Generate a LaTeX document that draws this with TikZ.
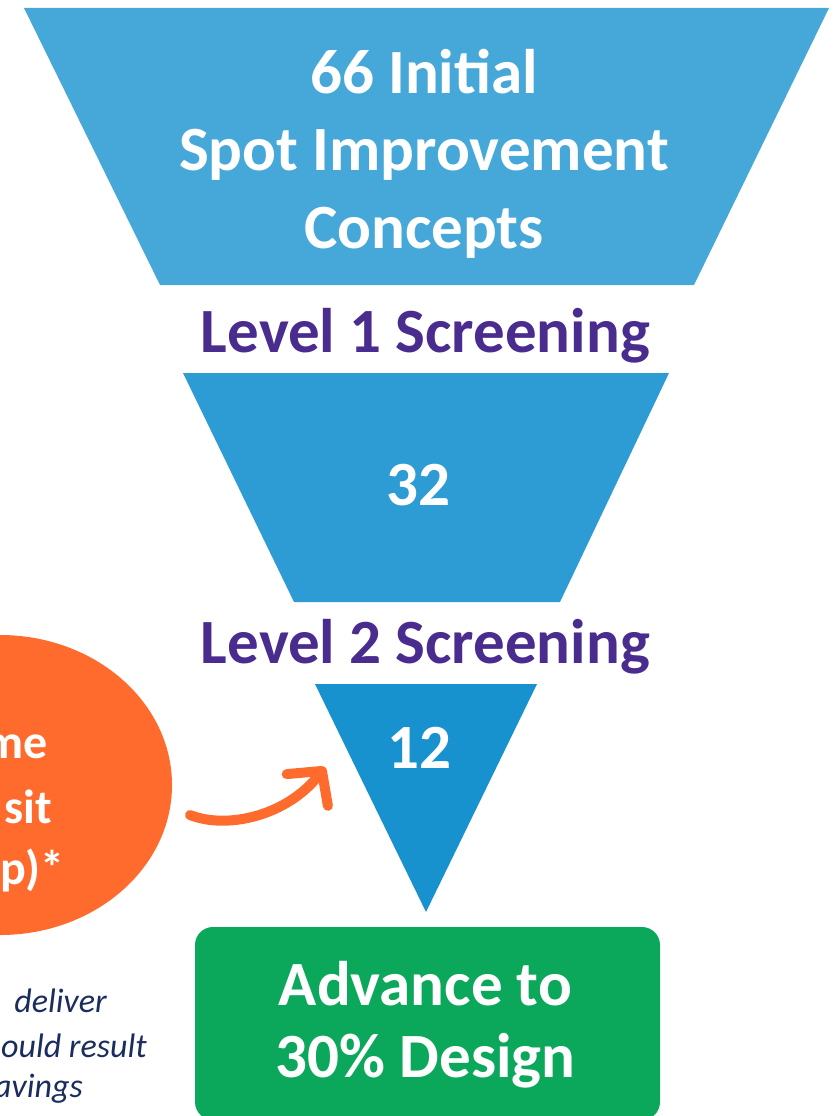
\documentclass[tikz,border=0pt]{standalone}
\usepackage{fontspec}
\setmainfont{Carlito}
\usetikzlibrary{arrows.meta,shapes,calc}
\definecolor{funnelA}{HTML}{46A8D8}
\definecolor{funnelB}{HTML}{2D9BD4}
\definecolor{funnelC}{HTML}{1892CF}
\definecolor{screenpurple}{HTML}{4A2C8F}
\definecolor{advgreen}{HTML}{0BA85B}
\definecolor{transorange}{HTML}{FF6B2C}
\definecolor{notenavy}{HTML}{1B2C5E}
\tikzstyle{bigtext}=[text=white,font=\bfseries\fontsize{63}{77.5}\selectfont,align=center,inner sep=0pt,anchor=base]
\tikzstyle{screen}=[text=screenpurple,font=\bfseries\fontsize{63}{77}\selectfont,inner sep=0pt,anchor=base]
\tikzstyle{ovaltext}=[text=white,font=\bfseries\fontsize{48}{63}\selectfont,inner sep=0pt,anchor=base east]
\tikzstyle{note}=[text=notenavy,font=\itshape\fontsize{34}{43}\selectfont,inner sep=0pt,anchor=base east]
\tikzstyle{curvearrow}=[draw=transorange,line width=10pt,line cap=round,-{Straight Barb[length=24pt,width=52pt,round]}]

\begin{document}
\begin{tikzpicture}[x=1pt,y=-1pt]
    \useasboundingbox (0,0) rectangle (833,1116);

    % funnel stages
    \fill[funnelA] (24,8) -- (829,8) -- (694,285) -- (160,285) -- cycle;
    \fill[funnelB] (183,373) -- (669,373) -- (560,602) -- (294,602) -- cycle;
    \fill[funnelC] (315,684) -- (537,684) -- (426,912) -- cycle;
    \fill[advgreen, rounded corners=18pt] (195,927) rectangle (660,1120);
    \fill[transorange] (0,785) ellipse [x radius=172, y radius=150];

    % multi-line nodes sit on their last baseline
    \node[bigtext] (initial) at (424,248) {66 Initial\\Spot Improvement\\Concepts};
    \node[screen] (level1) at (425.5,352) {Level 1 Screening};
    \node[bigtext] (n32) at (418,505) {32};
    \node[screen] (level2) at (425.5,663) {Level 2 Screening};
    \node[bigtext] (n12) at (419,768) {12};
    \node[bigtext,font=\bfseries\fontsize{63}{72}\selectfont] (advance) at (425.5,1077) {Advance to\\30\% Design};

    % cut-off text on the left
    \foreach \y/\txt/\xr in {758/me/48, 823/sit/52, 884/p)*/65}
        \node[ovaltext] (oval\y) at (\xr,\y) {\txt};
    \foreach \y/\txt/\xr in {1012/deliver/107, 1057/ould result/147, 1097/avings/83}
        \node[note] (note\y) at (\xr,\y) {\txt};

    \coordinate (arrS) at (190,815);
    \coordinate (arrE) at (325,767);
    \path[curvearrow] (arrS) .. controls (228,830) and (288,815) .. (arrE);
\end{tikzpicture}
\end{document}
